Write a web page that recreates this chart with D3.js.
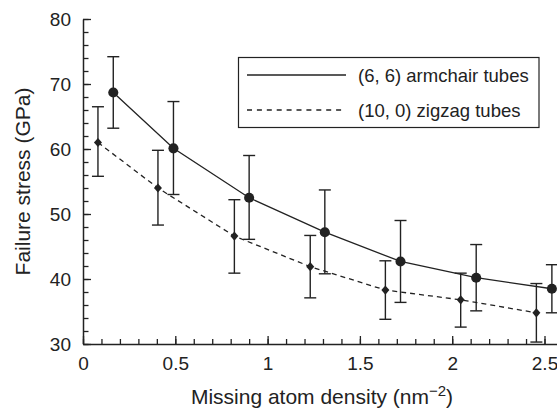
<!DOCTYPE html>
<html>
<head>
<meta charset="utf-8">
<script src="https://cdn.jsdelivr.net/npm/d3@7"></script>
<style>
  body { margin: 0; background: #fff; }
  svg { display: block; font-family: "Liberation Sans", Arial, sans-serif; }
</style>
</head>
<body>
<svg id="chart" width="557" height="408"></svg>
<script>
// armchair (6,6) tubes
const armchairX = [0.164, 0.49, 0.90, 1.31, 1.72, 2.13, 2.54];
const armchairY = [68.7, 60.1, 52.5, 47.2, 42.7, 40.2, 38.5];
const armchairHi = [74.2, 67.3, 59.0, 53.7, 49.0, 45.3, 42.2];
const armchairLo = [63.2, 53.0, 46.1, 40.8, 36.4, 35.1, 34.8];

// zigzag (10,0) tubes
const zigzagX = [0.081, 0.406, 0.82, 1.231, 1.638, 2.046, 2.456];
const zigzagY = [61.0, 54.0, 46.6, 41.9, 38.3, 36.8, 34.8];
const zigzagHi = [66.5, 59.8, 52.2, 46.7, 42.8, 40.9, 39.3];
const zigzagLo = [55.8, 48.3, 40.9, 37.1, 33.8, 32.6, 30.3];

const xTicks = [0, 0.5, 1, 1.5, 2, 2.5];
const yTicks = [30, 40, 50, 60, 70, 80];
const legendLabels = ["(6, 6) armchair tubes", "(10, 0) zigzag tubes"];

const ink = "#222";
const svg = d3.select("#chart");

const x = d3.scaleLinear().domain([0, 2.6]).range([83, 83 + 2.6 * 184.6]);
const y = d3.scaleLinear().domain([30, 80]).range([344, 19]);

// minor ticks
svg.append("g")
  .attr("transform", "translate(83,0)")
  .call(d3.axisLeft(y).tickValues(d3.range(30, 80.1, 2)).tickSize(-5.5).tickFormat(""))
  .call(g => g.select(".domain").remove());
svg.append("g")
  .attr("transform", "translate(0,344)")
  .call(d3.axisBottom(x).tickValues(d3.range(0, 2.61, 0.1)).tickSize(-5).tickFormat(""))
  .call(g => g.select(".domain").remove());

// major axes
svg.append("g")
  .attr("transform", "translate(83,0)")
  .call(d3.axisLeft(y).tickValues(yTicks).tickSize(-8).tickSizeOuter(0).tickPadding(12).tickFormat(d3.format("d")));
svg.append("g")
  .attr("transform", "translate(0,344)")
  .call(d3.axisBottom(x).tickValues(xTicks).tickSize(-8).tickSizeOuter(0).tickPadding(13).tickFormat(d => d));

svg.selectAll(".tick line").attr("stroke", ink).attr("stroke-width", 1.3);
svg.selectAll(".domain").attr("stroke", ink).attr("stroke-width", 1.5);
svg.selectAll(".tick text").attr("fill", ink).attr("font-size", 19).attr("font-family", "Liberation Sans, Arial, sans-serif");

// axis titles
svg.append("text")
  .attr("transform", `translate(22,${(y(30) + y(80)) / 2}) rotate(-90)`)
  .attr("text-anchor", "middle")
  .attr("dominant-baseline", "central")
  .attr("font-size", 21)
  .attr("fill", ink)
  .text("Failure stress (GPa)");

const xt = svg.append("text")
  .attr("x", 322)
  .attr("y", 404)
  .attr("text-anchor", "middle")
  .attr("font-size", 21)
  .attr("fill", ink);
xt.append("tspan").text("Missing atom density (nm");
xt.append("tspan").attr("font-size", 15).attr("dy", -8).text("\u22122");
xt.append("tspan").attr("dy", 8).text(")");

// series
function drawSeries(xs, ys, hi, lo, dashed, marker) {
  const pts = xs.map((v, i) => ({ x: v, y: ys[i], hi: hi[i], lo: lo[i] }));
  const line = d3.line().x(d => x(d.x)).y(d => y(d.y));
  svg.append("path")
    .datum(pts)
    .attr("d", line)
    .attr("fill", "none")
    .attr("stroke", ink)
    .attr("stroke-width", 1.3)
    .attr("stroke-dasharray", dashed ? "5,4" : null);

  const eb = svg.append("g").attr("stroke", ink).attr("stroke-width", 1.4);
  eb.selectAll("line.v").data(pts).join("line")
    .attr("x1", d => x(d.x)).attr("x2", d => x(d.x))
    .attr("y1", d => y(d.hi)).attr("y2", d => y(d.lo));
  eb.selectAll("line.t").data(pts).join("line")
    .attr("x1", d => x(d.x) - 6).attr("x2", d => x(d.x) + 6)
    .attr("y1", d => y(d.hi)).attr("y2", d => y(d.hi));
  eb.selectAll("line.b").data(pts).join("line")
    .attr("x1", d => x(d.x) - 6).attr("x2", d => x(d.x) + 6)
    .attr("y1", d => y(d.lo)).attr("y2", d => y(d.lo));

  svg.append("g").selectAll("path").data(pts).join("path")
    .attr("transform", d => `translate(${x(d.x)},${y(d.y)})`)
    .attr("d", marker)
    .attr("fill", ink);
}

drawSeries(armchairX, armchairY, armchairHi, armchairLo, false, d3.symbol(d3.symbolCircle, 80)());
drawSeries(zigzagX, zigzagY, zigzagHi, zigzagLo, true, "M0,-4.6L4,0L0,4.6L-4,0Z");

// legend
const lg = svg.append("g");
lg.append("rect")
  .attr("x", 238.5).attr("y", 57.5).attr("width", 300.5).attr("height", 70)
  .attr("fill", "#fff").attr("stroke", ink).attr("stroke-width", 1.2);
legendLabels.forEach((lab, i) => {
  const ly = 75 + i * 35;
  lg.append("line")
    .attr("x1", 247).attr("x2", 346).attr("y1", ly).attr("y2", ly)
    .attr("stroke", ink).attr("stroke-width", 1.3)
    .attr("stroke-dasharray", i === 1 ? "5,4.9" : null);
  lg.append("text")
    .attr("x", 358).attr("y", ly)
    .attr("dominant-baseline", "central")
    .attr("font-size", 18.5)
    .attr("fill", ink)
    .text(lab);
});
</script>
</body>
</html>
